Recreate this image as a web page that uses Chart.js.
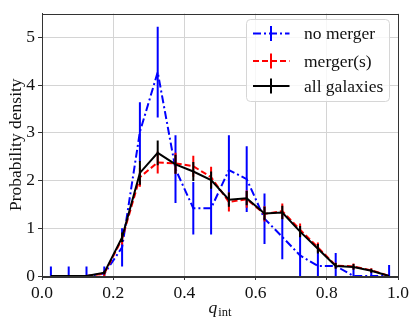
<!DOCTYPE html>
<html>
<head>
<meta charset="utf-8">
<script src="https://cdn.jsdelivr.net/npm/chart.js@4/dist/chart.umd.min.js"></script>
<style>
html,body{margin:0;padding:0;background:#fff;}
#c{display:block;}
</style>
</head>
<body>
<canvas id="c" width="416" height="326"></canvas>
<script>
// ---- data ----
const qBins = [0.025,0.075,0.125,0.175,0.225,0.275,0.325,0.375,0.425,0.475,0.525,0.575,0.625,0.675,0.725,0.775,0.825,0.875,0.925,0.975];
const noMerger    = [0,0,0,0.05,0.60,3.02,4.27,2.24,1.42,1.42,2.22,2.03,1.20,0.82,0.43,0.21,0.21,0,0,0];
const noMergerErr = [0.2,0.2,0.2,0.15,0.40,0.62,0.95,0.71,0.55,0.55,0.73,0.69,0.53,0.47,0.50,0.33,0.27,0.17,0.12,0.23];
const mergers     = [0,0,0,0.05,0.78,2.07,2.38,2.36,2.30,2.07,1.55,1.61,1.30,1.36,0.97,0.60,0.22,0.20,0.12,0];
const mergersErr  = [0,0,0,0.05,0.12,0.20,0.23,0.22,0.22,0.22,0.20,0.18,0.16,0.16,0.13,0.10,0.06,0.06,0.04,0];
const allGal      = [0,0,0,0.07,0.81,2.16,2.58,2.34,2.19,2.01,1.60,1.63,1.31,1.33,0.93,0.57,0.21,0.19,0.11,0];
const allGalErr   = [0,0,0,0.04,0.10,0.25,0.26,0.20,0.20,0.18,0.15,0.15,0.14,0.14,0.12,0.10,0.06,0.06,0.04,0];
const seriesLabels = ['no merger','merger(s)','all galaxies'];
const xTicks = [0,0.2,0.4,0.6,0.8,1.0];
const yTicks = [0,1,2,3,4,5];

const FONT = '"Liberation Serif", "Times New Roman", serif';
const FS = 17.5;

const pts = (ys) => qBins.map((x,i)=>({x:x, y:ys[i]}));

const errorBarPlugin = {
  id:'errorBars',
  afterDatasetDraw(chart, args){
    const ds = chart.data.datasets[args.index];
    if(!ds.errors) return;
    const xs = chart.scales.x, ys = chart.scales.y, ca = chart.chartArea;
    const ctx = chart.ctx;
    ctx.save();
    ctx.beginPath();
    ctx.rect(ca.left, ca.top, ca.right-ca.left, ca.bottom-ca.top);
    ctx.clip();
    ctx.strokeStyle = ds.borderColor;
    ctx.lineWidth = 2;
    ctx.setLineDash([]);
    ds.data.forEach((p,i)=>{
      const e = ds.errors[i];
      if(!e) return;
      const px = xs.getPixelForValue(p.x);
      ctx.beginPath();
      ctx.moveTo(px, ys.getPixelForValue(p.y - e));
      ctx.lineTo(px, ys.getPixelForValue(p.y + e));
      ctx.stroke();
    });
    ctx.restore();
  }
};

const framePlugin = {
  id:'frameLegend',
  afterDraw(chart){
    const ctx = chart.ctx, ca = chart.chartArea;
    ctx.save();
    // frame
    ctx.strokeStyle = '#333';
    ctx.lineWidth = 1;
    ctx.strokeRect(Math.round(ca.left)+0.5, Math.round(ca.top)+0.5, Math.round(ca.right-ca.left), Math.round(ca.bottom-ca.top));
    // legend
    const lx = 246.5, ly = 19.5, lw = 143, lh = 82, r = 4;
    ctx.beginPath();
    ctx.moveTo(lx+r, ly);
    ctx.arcTo(lx+lw, ly, lx+lw, ly+lh, r);
    ctx.arcTo(lx+lw, ly+lh, lx, ly+lh, r);
    ctx.arcTo(lx, ly+lh, lx, ly, r);
    ctx.arcTo(lx, ly, lx+lw, ly, r);
    ctx.closePath();
    ctx.fillStyle = 'rgba(255,255,255,0.8)';
    ctx.fill();
    ctx.strokeStyle = '#d6d6d6';
    ctx.lineWidth = 1;
    ctx.stroke();
    const rows = [33.5, 61, 86];
    chart.data.datasets.forEach((ds,i)=>{
      const y = rows[i];
      ctx.strokeStyle = ds.borderColor;
      ctx.lineWidth = 2;
      ctx.setLineDash(ds.borderDash || []);
      ctx.beginPath();
      ctx.moveTo(253, y); ctx.lineTo(289.5, y);
      ctx.stroke();
      ctx.setLineDash([]);
      ctx.beginPath();
      ctx.moveTo(271, y-7.5); ctx.lineTo(271, y+7.5);
      ctx.stroke();
      ctx.fillStyle = '#111';
      ctx.font = FS + 'px ' + FONT;
      ctx.textBaseline = 'middle';
      ctx.textAlign = 'left';
      ctx.fillText(ds.label, 304, y+1);
    });
    // x-axis title: q_int
    ctx.fillStyle = '#111';
    ctx.textBaseline = 'alphabetic';
    ctx.textAlign = 'left';
    ctx.font = 'italic ' + FS + 'px ' + FONT;
    const qw = ctx.measureText('q').width;
    ctx.font = '12.5px ' + FONT;
    const iw = ctx.measureText('int').width;
    const cx = (ca.left+ca.right)/2;
    const x0 = cx - (qw+iw+1)/2;
    ctx.font = 'italic ' + FS + 'px ' + FONT;
    ctx.fillText('q', x0, 313);
    ctx.font = '12.5px ' + FONT;
    ctx.fillText('int', x0+qw+1, 316);
    ctx.restore();
  }
};

new Chart(document.getElementById('c'), {
  type:'line',
  data:{
    datasets:[
      {label:seriesLabels[0], data:pts(noMerger), errors:noMergerErr, borderColor:'#0000ff', borderWidth:2, borderDash:[8,3,2,3], pointRadius:0, tension:0, fill:false, order:3},
      {label:seriesLabels[1], data:pts(mergers), errors:mergersErr, borderColor:'#ff0000', borderWidth:2, borderDash:[6,3], pointRadius:0, tension:0, fill:false, order:2},
      {label:seriesLabels[2], data:pts(allGal), errors:allGalErr, borderColor:'#000000', borderWidth:2, pointRadius:0, tension:0, fill:false, order:1}
    ]
  },
  options:{
    responsive:false,
    animation:false,
    devicePixelRatio:1,
    layout:{padding:{left:0, top:11, right:18, bottom:0}},
    plugins:{legend:{display:false}, tooltip:{enabled:false}},
    scales:{
      x:{
        type:'linear', min:0, max:1,
        afterBuildTicks:(s)=>{ s.ticks = xTicks.map(v=>({value:v})); },
        afterFit:(s)=>{ s.height = 50; },
        grid:{color:'#d4d4d4', lineWidth:1, tickColor:'#333', tickLength:4},
        border:{display:true, color:'#333', width:1},
        ticks:{color:'#111', padding:3, maxRotation:0, font:{family:FONT, size:FS}, callback:(v)=>Number(v).toFixed(1)}
      },
      y:{
        type:'linear', min:0, max:5.5,
        afterBuildTicks:(s)=>{ s.ticks = yTicks.map(v=>({value:v})); },
        afterFit:(s)=>{ s.width = 42; },
        grid:{color:'#d4d4d4', lineWidth:1, tickColor:'#333', tickLength:4},
        border:{display:true, color:'#333', width:1},
        ticks:{color:'#111', padding:3, font:{family:FONT, size:FS}, callback:(v)=>String(v)},
        title:{display:true, text:'Probability density', color:'#111', font:{family:FONT, size:FS}, padding:{top:6, bottom:4}}
      }
    }
  },
  plugins:[errorBarPlugin, framePlugin]
});
</script>
</body>
</html>
